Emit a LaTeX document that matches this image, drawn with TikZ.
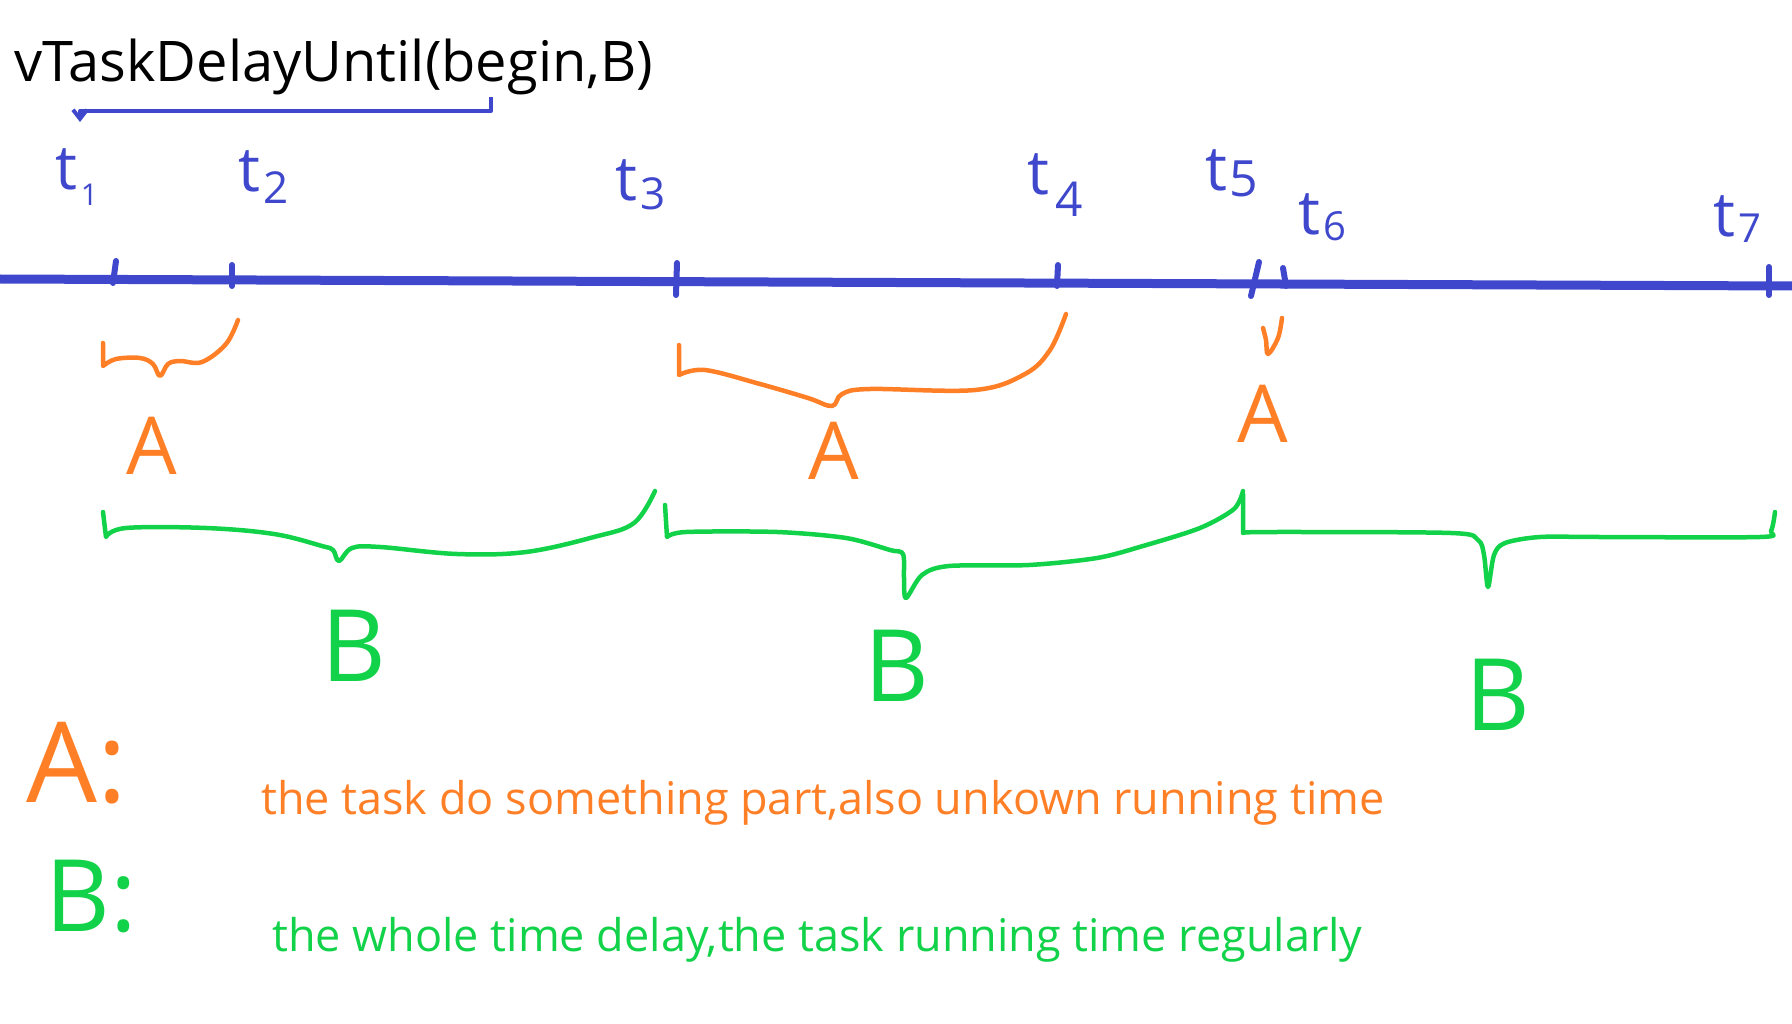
\documentclass[tikz,border=0pt]{standalone}
\usepackage{fontspec}
\setmainfont{Open Sans}
\usetikzlibrary{arrows.meta,positioning}
\definecolor{PenBlue}{HTML}{3F48CC}
\definecolor{PenOrange}{HTML}{FF7F27}
\definecolor{PenGreen}{HTML}{12D24A}

\begin{document}
\begin{tikzpicture}[x=1pt,y=-1pt,
    axisline/.style={draw=PenBlue, line width=9pt, line cap=round},
    tickmark/.style={draw=PenBlue, line width=6pt, line cap=round},
    tlabel/.style={text=PenBlue, inner sep=0pt, font=\fontsize{62}{62}\selectfont},
    alabel/.style={text=PenOrange, inner sep=0pt, font=\fontsize{80}{80}\selectfont},
    blabel/.style={text=PenGreen, inner sep=0pt, font=\fontsize{100}{100}\selectfont},
    abrace/.style={draw=PenOrange, line width=4.5pt, line cap=round, line join=round},
    bbrace/.style={draw=PenGreen, line width=4.5pt, line cap=round, line join=round},
    arr/.style={-{Straight Barb[length=9pt,width=14pt]}, draw=PenBlue, line width=4pt, line join=round}
  ]
    \useasboundingbox (0,0) rectangle (1792,1024);

    % call and its delay start
    \node[anchor=base west, inner sep=0pt, font=\fontsize{56}{56}\selectfont] (call) at (14,82) {vTaskDelayUntil(begin,B)};
    \coordinate (beginmark) at (491,97);
    \coordinate (t1top) at (80,122);

    % time axis
    \coordinate (axisL) at (0,279);
    \coordinate (axisR) at (1792,286);
    \draw[axisline] (axisL) -- (axisR);
    \draw[tickmark] (116,261) -- (113,283);
    \draw[tickmark] (232,265) -- (232,286);
    \draw[tickmark] (677,263) -- (676,295);
    \draw[tickmark] (1058,265) -- (1057,286);
    \draw[tickmark] (1259,262) -- (1251,296);
    \draw[tickmark] (1283,268) -- (1286,286);
    \draw[tickmark] (1769,267) -- (1769,295);

    \node[tlabel] (t1) at (77,177) {t\kern3pt\raisebox{-0.25em}{\fontsize{30}{30}\selectfont 1}};
    \node[tlabel] (t2) at (264,177) {t\kern3pt\raisebox{-0.2em}{\fontsize{44}{44}\selectfont 2}};
    \node[tlabel] (t3) at (641,185) {t\kern3pt\raisebox{-0.15em}{\fontsize{44}{44}\selectfont 3}};
    \node[tlabel] (t4) at (1055,185) {t\kern6pt\raisebox{-0.35em}{\fontsize{48}{48}\selectfont 4}};
    \node[tlabel] (t5) at (1232,173) {t\kern2pt\raisebox{-0.1em}{\fontsize{50}{50}\selectfont 5}};
    \node[tlabel] (t6) at (1322,217) {t\kern3pt\raisebox{-0.1em}{\fontsize{40}{40}\selectfont 6}};
    \node[tlabel] (t7) at (1737,219) {t\kern3pt\raisebox{-0.1em}{\fontsize{40}{40}\selectfont 7}};

    \draw[arr] (beginmark) -- ++(0,14) -| (t1top);

    % A: the part the task works
    \draw[abrace] (103,343) -- plot[smooth, tension=0.6] coordinates {(103,366) (116,359) (140,358) (153,364) (160,376) (168,364) (180,361) (202,362) (226,344) (238,320)};
    \draw[abrace] (679,345) -- plot[smooth, tension=0.6] coordinates {(679,375) (705,370) (760,384) (808,398) (832,406) (842,394) (870,389) (975,390) (1025,374) (1050,350) (1066,314)};
    \draw[abrace] plot[smooth, tension=0.6] coordinates {(1263,328) (1266,340) (1268,354) (1278,338) (1282,318)};
    \node[alabel] (a1) at (152,446) {A};
    \node[alabel] (a2) at (834,451) {A};
    \node[alabel] (a3) at (1263,414) {A};

    % B: the whole delay
    \draw[bbrace] (103,512) -- plot[smooth, tension=0.6] coordinates {(106,537) (126,528) (206,528) (274,534) (322,546) (333,550) (339,561) (352,548) (380,547) (457,554) (526,552) (594,537) (634,523) (655,491)};
    \draw[bbrace] (665,505) -- plot[smooth, tension=0.5] coordinates {(667,537) (686,532) (777,532) (846,538) (890,550) (903,554) (904,578) (906,598) (922,575) (949,566) (1029,565) (1097,558) (1143,546) (1200,528) (1234,509) (1243,491)};
    \draw[bbrace] (1243,494) -- plot[smooth, tension=0.5] coordinates {(1243,533) (1269,532) (1451,533) (1478,540) (1484,555) (1488,587) (1494,555) (1505,543) (1540,537) (1600,537) (1760,537) (1771,531) (1775,512)};
    \node[blabel] (b1) at (354,646) {B};
    \node[blabel] (b2) at (897,666) {B};
    \node[blabel] (b3) at (1498,695) {B};

    % legend
    \node[text=PenOrange, inner sep=0pt, font=\fontsize{112}{112}\selectfont] (keyA) at (77,763) {A:};
    \node[text=PenGreen, inner sep=0pt, font=\fontsize{100}{100}\selectfont] (keyB) at (91,897) {B:};
    \node[anchor=base west, inner sep=0pt, text=PenOrange, font=\fontsize{45}{45}\selectfont] (defA) at (261,814) {the task do something part,also unkown running time};
    \node[anchor=base west, inner sep=0pt, text=PenGreen, font=\fontsize{45}{45}\selectfont] (defB) at (272,951) {the whole time delay,the task running time regularly};
\end{tikzpicture}
\end{document}
